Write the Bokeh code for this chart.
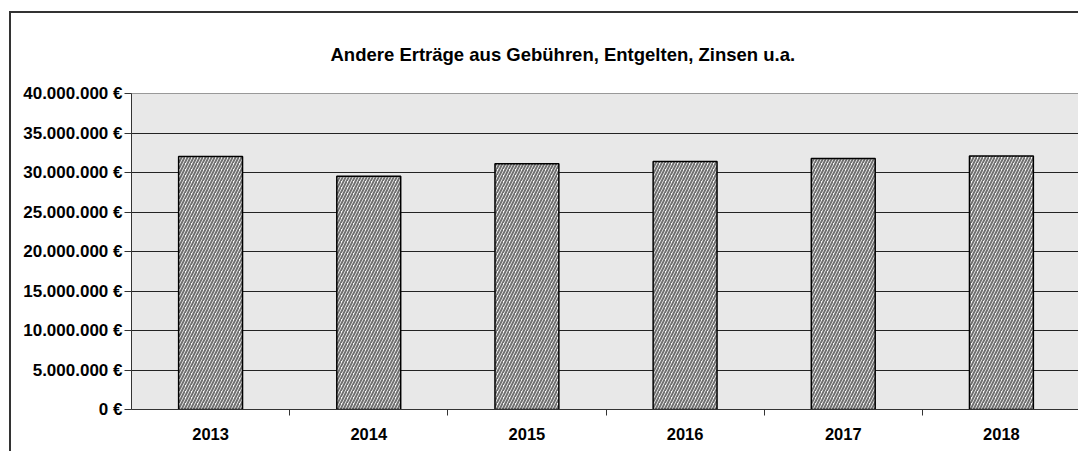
from bokeh.plotting import figure
from bokeh.models import FixedTicker, ColumnDataSource, Range1d
from bokeh.embed import file_html
from bokeh.resources import INLINE

years = ["2013", "2014", "2015", "2016", "2017", "2018"]
values = [32030000, 29540000, 31100000, 31400000, 31770000, 32080000]
y_ticks = [0, 5000000, 10000000, 15000000, 20000000, 25000000, 30000000, 35000000, 40000000]
y_labels = ["0 €", "5.000.000 €", "10.000.000 €", "15.000.000 €", "20.000.000 €",
            "25.000.000 €", "30.000.000 €", "35.000.000 €", "40.000.000 €"]
title_text = "Andere Erträge aus Gebühren, Entgelten, Zinsen  u.a."

xs = [i + 0.5 for i in range(len(years))]
src = ColumnDataSource(dict(x=xs, top=values, year=years))

p = figure(width=1069, height=440, output_backend="svg", toolbar_location=None,
           x_range=Range1d(0, len(years)), y_range=Range1d(0, 40000000),
           min_border_left=120, min_border_right=0, min_border_top=80, min_border_bottom=44)
p.styles = {"margin-left": "9px", "margin-top": "11px",
            "border-left": "2px solid #333333", "border-top": "2px solid #333333"}

p.border_fill_color = "white"
p.background_fill_color = "#e8e8e8"
p.outline_line_color = "#999999"
p.outline_line_width = 1

p.title.text = title_text
p.title.text_font = "Liberation Sans"
p.title.text_font_size = "18.5px"
p.title.text_font_style = "bold"
p.title.text_color = "black"
p.title.align = "left"
p.title.offset = 199
p.title.vertical_align = "bottom"
p.title.standoff = 57

p.vbar(x="x", top="top", width=0.404, source=src, fill_color="white",
       hatch_pattern="right_diagonal_line", hatch_color="#707070", hatch_scale=6, hatch_weight=2,
       line_color="black", line_width=1.5)

# y axis
p.yaxis.ticker = FixedTicker(ticks=y_ticks)
p.yaxis.major_label_overrides = {t: l for t, l in zip(y_ticks, y_labels)}
p.yaxis.major_label_text_font = "Liberation Sans"
p.yaxis.major_label_text_font_style = "bold"
p.yaxis.major_label_text_font_size = "17px"
p.yaxis.major_label_text_color = "black"
p.yaxis.axis_line_color = "#333333"
p.yaxis.major_tick_line_color = "#333333"
p.yaxis.major_tick_out = 7
p.yaxis.major_tick_in = 0
p.yaxis.minor_tick_line_color = None
p.yaxis.major_label_standoff = 2

# x axis
p.xaxis.ticker = FixedTicker(ticks=xs, minor_ticks=list(range(1, len(years))))
p.xaxis.major_label_overrides = {x: y for x, y in zip(xs, years)}
p.xaxis.major_label_text_font = "Liberation Sans"
p.xaxis.major_label_text_font_style = "bold"
p.xaxis.major_label_text_font_size = "16.5px"
p.xaxis.major_label_text_color = "black"
p.xaxis.axis_line_color = "#333333"
p.xaxis.major_tick_line_color = None
p.xaxis.minor_tick_line_color = "#333333"
p.xaxis.minor_tick_out = 6
p.xaxis.minor_tick_in = 0
p.xaxis.major_label_standoff = 12

p.xgrid.grid_line_color = None
p.ygrid.ticker = FixedTicker(ticks=y_ticks)
p.ygrid.grid_line_color = "black"
p.ygrid.grid_line_width = 1
p.ygrid.grid_line_alpha = 0.85

open("out.html", "w").write(file_html(p, INLINE))
